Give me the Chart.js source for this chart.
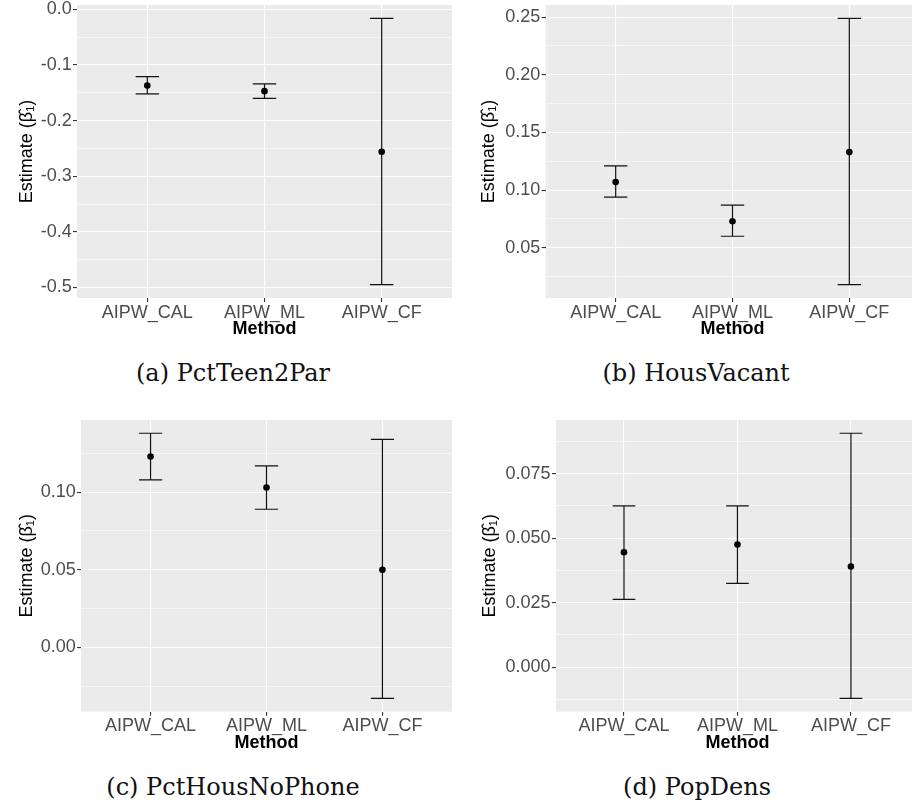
<!DOCTYPE html>
<html>
<head>
<meta charset="utf-8">
<script src="https://cdn.jsdelivr.net/npm/chart.js@4.4.1/dist/chart.umd.min.js"></script>
<style>
  html, body { margin: 0; padding: 0; background: #fff; }
  body { width: 912px; height: 806px; position: relative; overflow: hidden; }
  canvas { position: absolute; }
  .caption {
    position: absolute; width: 400px; text-align: center;
    font-family: "DejaVu Serif", serif; font-size: 24px; line-height: 30px; color: #111;
  }
</style>
</head>
<body>
<canvas id="chartA"></canvas>
<canvas id="chartB"></canvas>
<canvas id="chartC"></canvas>
<canvas id="chartD"></canvas>
<div class="caption" style="left:33px;top:358px">(a) PctTeen2Par</div>
<div class="caption" style="left:496px;top:358px">(b) HousVacant</div>
<div class="caption" style="left:33px;top:772px">(c) PctHousNoPhone</div>
<div class="caption" style="left:497px;top:772px">(d) PopDens</div>
<script>
const methods = ["AIPW_CAL", "AIPW_ML", "AIPW_CF"];

// (a) PctTeen2Par
const teenEst = [-0.137, -0.147, -0.256];
const teenLow = [-0.152, -0.160, -0.495];
const teenHigh = [-0.121, -0.134, -0.016];
const teenTicks = [-0.5, -0.4, -0.3, -0.2, -0.1, 0.0];

// (b) HousVacant
const vacantEst = [0.107, 0.073, 0.133];
const vacantLow = [0.094, 0.060, 0.018];
const vacantHigh = [0.121, 0.087, 0.249];
const vacantTicks = [0.05, 0.10, 0.15, 0.20, 0.25];

// (c) PctHousNoPhone
const phoneEst = [0.123, 0.103, 0.050];
const phoneLow = [0.108, 0.089, -0.033];
const phoneHigh = [0.138, 0.117, 0.134];
const phoneTicks = [0.00, 0.05, 0.10];

// (d) PopDens
const densEst = [0.0445, 0.0475, 0.039];
const densLow = [0.0263, 0.0325, -0.0121];
const densHigh = [0.0625, 0.0625, 0.0906];
const densTicks = [0.000, 0.025, 0.050, 0.075];

const FONT = "'Liberation Sans', Arial, sans-serif";

// grey panel behind the plot, like ggplot's theme_gray
const plotBg = {
  id: "plotBg",
  beforeDraw(chart) {
    const { ctx, chartArea: a } = chart;
    ctx.save();
    ctx.fillStyle = "#EBEBEB";
    ctx.fillRect(a.left, a.top, a.right - a.left, a.bottom - a.top);
    ctx.restore();
  }
};

// vertical error bars with caps, drawn through the chart's scales
const errorBars = {
  id: "errorBars",
  beforeDatasetsDraw(chart, args, opts) {
    const { ctx, scales: { x, y } } = chart;
    ctx.save();
    ctx.strokeStyle = opts.color;
    ctx.lineWidth = opts.width;
    opts.low.forEach((lo, i) => {
      const hi = opts.high[i];
      const cx = x.getPixelForValue(i + 1);
      const x0 = x.getPixelForValue(i + 1 - opts.cap);
      const x1 = x.getPixelForValue(i + 1 + opts.cap);
      const yl = y.getPixelForValue(lo);
      const yh = y.getPixelForValue(hi);
      ctx.beginPath();
      ctx.moveTo(cx, yl); ctx.lineTo(cx, yh);
      ctx.moveTo(x0, yl); ctx.lineTo(x1, yl);
      ctx.moveTo(x0, yh); ctx.lineTo(x1, yh);
      ctx.stroke();
    });
    ctx.restore();
  }
};

function noPadding(s) {
  s.paddingLeft = 0; s.paddingRight = 0; s.paddingTop = 0; s.paddingBottom = 0;
}

function makePanel(id, est, low, high, majors, decimals, box) {
  const canvas = document.getElementById(id);
  canvas.style.left = box.x + "px";
  canvas.style.top = box.y + "px";
  canvas.width = box.w;
  canvas.height = box.h;

  // ggplot expands the continuous range by 5% on each side
  const lo = Math.min(...low), hi = Math.max(...high);
  const pad = (hi - lo) * 0.05;
  const yMin = lo - pad, yMax = hi + pad;

  // minor grid lines sit halfway between the major ones
  const step = majors[1] - majors[0];
  const yTicks = majors.map(v => ({ value: v, minor: false }));
  const halves = [majors[0] - step / 2].concat(majors.map(v => v + step / 2));
  halves.forEach(v => { if (v > yMin && v < yMax) yTicks.push({ value: v, minor: true }); });
  yTicks.sort((a, b) => a.value - b.value);

  return new Chart(canvas, {
    type: "scatter",
    data: {
      datasets: [{
        data: est.map((v, i) => ({ x: i + 1, y: v })),
        pointRadius: 3.3,
        pointBackgroundColor: "#000",
        pointBorderWidth: 0
      }]
    },
    options: {
      responsive: false,
      animation: false,
      events: [],
      layout: { padding: { top: box.top, right: box.w - box.right, left: 0, bottom: 0 } },
      plugins: {
        legend: { display: false },
        tooltip: { enabled: false },
        errorBars: { low: low, high: high, cap: 0.1, color: "#111", width: 1.2 }
      },
      scales: {
        x: {
          type: "linear",
          min: 0.4,
          max: 3.6,
          afterBuildTicks: s => { s.ticks = methods.map((m, i) => ({ value: i + 1 })); },
          afterFit: s => { s.height = box.h - box.bottom; noPadding(s); },
          border: { display: false },
          grid: { color: "#fff", lineWidth: 1.1, tickColor: "#333", tickLength: 4 },
          ticks: {
            autoSkip: false,
            maxRotation: 0,
            padding: 0,
            color: "#4D4D4D",
            font: { family: FONT, size: 18 },
            callback: v => methods[Math.round(v) - 1]
          },
          title: {
            display: true,
            text: "Method",
            color: "#000",
            font: { family: FONT, size: 18, weight: "bold" },
            padding: { top: 0, bottom: 5 }
          }
        },
        y: {
          type: "linear",
          min: yMin,
          max: yMax,
          afterBuildTicks: s => { s.ticks = yTicks.map(t => ({ value: t.value, minor: t.minor })); },
          afterFit: s => { s.width = box.left; noPadding(s); },
          border: { display: false },
          grid: {
            color: "#fff",
            lineWidth: c => (c.tick && c.tick.minor ? 0.55 : 1.1),
            tickColor: c => (c.tick && c.tick.minor ? "rgba(0,0,0,0)" : "#333"),
            tickLength: 4
          },
          ticks: {
            autoSkip: false,
            padding: 1.3,
            color: "#4D4D4D",
            font: { family: FONT, size: 18 },
            callback: (v, i, t) => (t[i].minor ? "" : v.toFixed(decimals))
          },
          title: {
            display: true,
            text: "Estimate (\u03B2\u0302\u2081)",
            color: "#000",
            font: { family: FONT, size: 18 },
            padding: { top: box.titleX - 10.8, bottom: 0 }
          }
        }
      }
    },
    plugins: [plotBg, errorBars]
  });
}

makePanel("chartA", teenEst, teenLow, teenHigh, teenTicks, 1,
  { x: 0, y: 0, w: 456, h: 345, left: 77, top: 5, right: 455.5, bottom: 298, titleX: 27 });
makePanel("chartB", vacantEst, vacantLow, vacantHigh, vacantTicks, 2,
  { x: 456, y: 0, w: 470, h: 345, left: 89.6, top: 5, right: 463.4, bottom: 298, titleX: 33 });
makePanel("chartC", phoneEst, phoneLow, phoneHigh, phoneTicks, 2,
  { x: 0, y: 400, w: 456, h: 359, left: 81, top: 20, right: 455.5, bottom: 311.7, titleX: 27 });
makePanel("chartD", densEst, densLow, densHigh, densTicks, 3,
  { x: 456, y: 400, w: 470, h: 359, left: 99.9, top: 20, right: 463, bottom: 311.7, titleX: 34 });
</script>
</body>
</html>
